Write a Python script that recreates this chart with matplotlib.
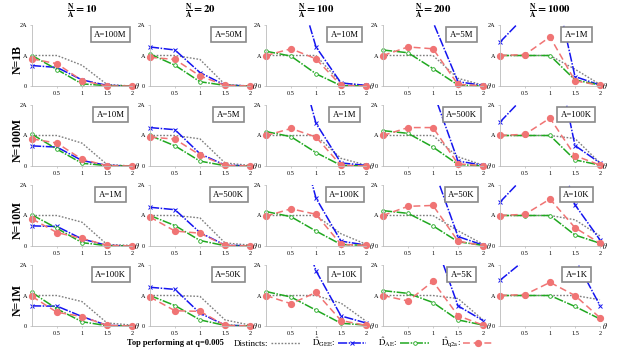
import matplotlib
matplotlib.use("Agg")
import matplotlib.pyplot as plt
from matplotlib.patches import Rectangle

plt.rcParams['font.family'] = ['Liberation Serif', 'DejaVu Serif']
plt.rcParams['mathtext.fontset'] = 'stix'

theta = [0, 0.5, 1, 1.5, 2]
col_ratio = ['10', '20', '100', '200', '1000']
row_labels = ['N=1B', 'N=100M', 'N=10M', 'N=1M']
box_labels = [['100M', '50M', '10M', '5M', '1M'],
              ['10M', '5M', '1M', '500K', '100K'],
              ['1M', '500K', '100K', '50K', '10K'],
              ['100K', '50K', '10K', '5K', '1K']]

# values relative to A (rows: N, cols: N/A)
distincts = [
    [[1, 1, .68, .05, 0], [1, 1, .87, .05, 0], [1, 1, 1, .1, .02], [1, 1, 1, .25, .03], [1, 1, 1, .55, .05]],
    [[1, 1, .75, .05, 0], [1, 1, .89, .1, .02], [1, 1, 1, .25, .03], [1, 1, 1, .3, .03], [1, 1, 1, .9, .1]],
    [[1, 1, .78, .05, .02], [1, 1, .92, .1, .03], [1, 1, 1, .4, .06], [1, 1, 1, .5, .06], [1, 1, 1, .86, .33]],
    [[1, 1, .8, .1, .03], [1, 1, .97, .2, .03], [1, 1, 1, .75, .16], [1, 1, 1, .9, .2], [1, 1, 1, 1, .86]],
]
gee = [
    [[.67, .61, .2, .02, 0], [1.28, 1.18, .44, .03, 0], [6, 4.05, 1.28, .1, .02], [8, 5, 2.1, .14, .02], [1.44, 2.29, 3.98, .31, .03]],
    [[.66, .62, .18, .02, 0], [1.26, 1.19, .4, .03, 0], [6, 4.4, 1.4, .1, .02], [8, 5, 2.46, .16, .03], [1.44, 2.3, 4.6, .67, .1]],
    [[.66, .64, .23, .02, 0], [1.27, 1.19, .44, .03, 0], [7, 4.6, 1.57, .16, .03], [8, 5, 2.6, .31, .03], [1.44, 2.3, 4.06, 1.35, .2]],
    [[.66, .65, .31, .02, 0], [1.27, 1.2, .42, .03, 0], [6, 4.2, 1.81, .33, .1], [8, 5, 2.97, .66, .18], [1.5, 2.17, 3.5, 2.2, .67]],
]
ae = [
    [[1, .54, .07, .01, 0], [1.05, .68, .14, .02, 0], [1.14, .98, .4, .01, 0], [1.18, 1.09, .57, .03, 0], [1, 1, 1, .2, .03]],
    [[1.04, .55, .09, .01, 0], [1, .66, .16, .01, 0], [1.13, .96, .44, .02, 0], [1.16, 1.07, .62, .05, 0], [1, 1, 1, .2, .03]],
    [[1.02, .58, .11, .01, 0], [1, .67, .18, .01, 0], [1.13, .96, .49, .05, .02], [1.16, 1.07, .66, .14, .02], [1, 1, 1, .36, .09]],
    [[1.1, .56, .14, .01, 0], [1, .67, .2, .02, 0], [1.13, .95, .52, .09, .03], [1.16, 1.07, .77, .2, .03], [1, 1, 1, .64, .23]],
]
q2a = [
    [[.89, .73, .18, 0, 0], [.94, .87, .33, .02, 0], [1, 1.22, .89, .02, 0], [1, 1.28, 1.22, .05, .01], [1, 1.03, 1.61, .17, .02]],
    [[.89, .75, .22, .01, 0], [.95, .88, .36, .02, 0], [1, 1.23, .95, .02, 0], [1, 1.26, 1.26, .07, .01], [1, 1.04, 1.57, .34, .03]],
    [[.89, .44, .25, .02, 0], [.95, .49, .42, .02, 0], [.98, 1.22, 1.04, .05, .02], [1, 1.3, 1.33, .16, .01], [1, 1.04, 1.54, .6, .09]],
    [[.97, .45, .31, .02, 0], [.95, .5, .48, .02, 0], [1, .73, 1.1, .18, .02], [1, .82, 1.46, .34, .03], [1, 1.03, 1.43, 1, .27]],
]

W, H = 619, 351
fig = plt.figure(figsize=(W / 100, H / 100), dpi=100)

col_left = [32, 150, 266, 383, 500]
row_bottom = [86, 166, 246, 326]
aw, ah = 100, 61

gray = '#7f7f7f'
blue = '#1414f0'
green = '#20a820'
red = '#f07474'

handles = None
for r in range(4):
    for c in range(5):
        ax = fig.add_axes([col_left[c] / W, 1 - row_bottom[r] / H, aw / W, ah / H])
        clip = Rectangle((-0.06, -0.1), 1.12, 1.1, transform=ax.transAxes)
        l1, = ax.plot(theta, distincts[r][c], color=gray, linestyle=(0, (1.2, 1.2)), linewidth=1.0)
        l2, = ax.plot(theta, gee[r][c], color=blue, linestyle=(0, (6, 1, 1, 1)), linewidth=1.1,
                      marker='x', markersize=3, markeredgewidth=0.7)
        l3, = ax.plot(theta, ae[r][c], color=green, linestyle=(0, (6, 1, 1, 1)), linewidth=1.1,
                      marker='o', markersize=2.6, markerfacecolor='white', markeredgewidth=0.6)
        l4, = ax.plot(theta, q2a[r][c], color=red, linestyle=(0, (4.5, 2.5)), linewidth=1.1,
                      marker='o', markersize=4.2)
        for ln in (l1, l2, l3, l4):
            ln.set_clip_path(clip)
        handles = [l1, l2, l3, l4]

        ax.set_xlim(0, 2)
        ax.set_ylim(0, 2)
        ax.set_xticks([0.5, 1, 1.5, 2])
        ax.set_xticklabels(['0.5', '1', '1.5', '2'])
        ax.set_yticks([0, 1, 2])
        ax.set_yticklabels(['0', 'A', '2A'])
        ax.tick_params(labelsize=4.5, length=1.5, width=0.5, color='#bbbbbb', pad=2)
        for s in ['top', 'right']:
            ax.spines[s].set_visible(False)
        for s in ['left', 'bottom']:
            ax.spines[s].set_color('#bbbbbb')
            ax.spines[s].set_linewidth(0.6)
        ax.patch.set_alpha(0)
        ax.text(2.05, 0, r'$\theta$', fontsize=5.5, va='center', ha='left')

        bx = 1.53 if c == 4 else 1.57
        ax.text(bx, 1.68, 'A=' + box_labels[r][c], fontsize=6.3, ha='center', va='center',
                bbox=dict(boxstyle='square,pad=0.4', facecolor='white', edgecolor='#8a8a8a', linewidth=1.2))

        if r == 0:
            fig.text((col_left[c] + aw / 2) / W, 1 - 11 / H,
                     r'$\mathbf{\frac{N}{A}}$' + r'$\mathbf{=' + col_ratio[c] + '}$',
                     fontsize=7.8, ha='center', va='center')
        if c == 0:
            fig.text(18 / W, 1 - (row_bottom[r] - ah / 2 + 4) / H, row_labels[r],
                     rotation=90, fontsize=8.5, fontweight='bold', ha='center', va='center')

# bottom legend
fig.text(127 / W, 1 - 343 / H, 'Top performing at q=0.005', fontsize=6, fontweight='bold',
         ha='left', va='center')
fig.legend(handles,
           ['Distincts:', r'$\hat{\mathrm{D}}_{\mathrm{GEE}}$:', r'$\hat{\mathrm{D}}_{\mathrm{AE}}$:',
            r'$\hat{\mathrm{D}}_{\mathrm{q2a}}$:'],
           loc='center left', bbox_to_anchor=(234 / W, 1 - 343 / H), ncol=4, frameon=False,
           markerfirst=False, fontsize=6.5, handlelength=3.2, handletextpad=0.3, numpoints=1,
           columnspacing=1.3, borderpad=0, borderaxespad=0)

fig.savefig('out.png', dpi=100)
